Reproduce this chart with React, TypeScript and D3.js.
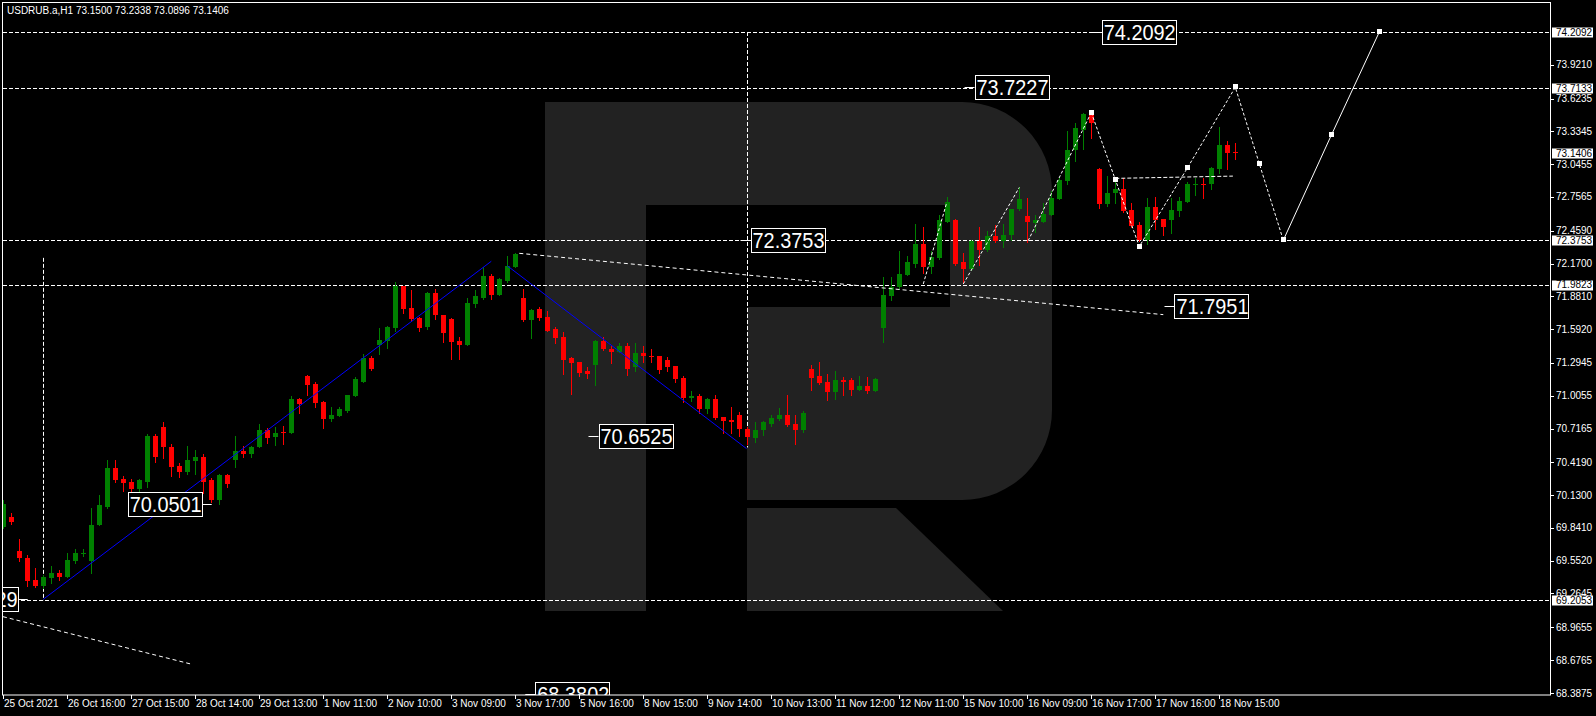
import React from "react";
import * as d3 from "d3";

// header
const symbolInfo = "USDRUB.a,H1  73.1500 73.2338 73.0896 73.1406";

// hourly bars (open / high / low / close)
const opens = [
  69.85, 69.94, 69.64, 69.58, 69.38, 69.33, 69.4, 69.44, 69.41, 69.55,
  69.61, 69.55, 69.87, 70.03, 70.37, 70.27, 70.25, 70.18, 70.25, 70.65,
  70.73, 70.55, 70.39, 70.33, 70.43, 70.47, 70.26, 70.09, 70.31, 70.44,
  70.52, 70.49, 70.55, 70.7, 70.64, 70.69, 70.68, 70.98, 71.18, 71.11,
  70.95, 70.8, 70.83, 70.87, 71.0, 71.13, 71.34, 71.45, 71.49, 71.6,
  71.97, 71.78, 71.69, 71.61, 71.91, 71.72, 71.68, 71.49, 71.45, 71.81,
  71.87, 72.06, 71.89, 72.02, 72.14, 71.87, 71.67, 71.77, 71.7, 71.59,
  71.52, 71.34, 71.3, 71.22, 71.28, 71.49, 71.42, 71.39, 71.44, 71.26,
  71.38, 71.36, 71.36, 71.32, 71.27, 71.16, 70.99, 71.0, 70.89, 70.98,
  70.82, 70.79, 70.84, 70.71, 70.63, 70.7, 70.76, 70.8, 70.84, 70.76,
  70.7, 71.24, 71.18, 71.13, 71.04, 71.14, 71.14, 71.06, 71.09, 71.05,
  71.6, 71.88, 71.96, 72.07, 72.17, 72.34, 72.14, 72.22, 72.54, 72.55,
  72.18, 72.12, 72.37, 72.29, 72.41, 72.37, 72.42, 72.65, 72.59, 72.53,
  72.54, 72.6, 72.74, 72.9, 73.17, 73.35, 73.48, 73.0, 72.69, 72.79,
  72.83, 72.64, 72.51, 72.38, 72.67, 72.56, 72.55, 72.63, 72.71, 72.86,
  72.87, 72.87, 73.0, 73.21, 73.15,
];
const highs = [
  70.09, 69.97, 69.74, 69.6, 69.49, 69.43, 69.51, 69.47, 69.62, 69.66,
  69.66, 70.02, 70.13, 70.44, 70.44, 70.3, 70.27, 70.27, 70.67, 70.67,
  70.77, 70.58, 70.41, 70.56, 70.53, 70.49, 70.28, 70.32, 70.32, 70.65,
  70.56, 70.56, 70.76, 70.72, 70.73, 70.74, 71.0, 70.99, 71.19, 71.13,
  70.96, 70.91, 70.91, 71.01, 71.17, 71.37, 71.36, 71.6, 71.62, 72.01,
  71.97, 71.94, 71.7, 71.92, 71.95, 71.72, 71.69, 71.52, 71.87, 71.94,
  72.14, 72.08, 72.04, 72.24, 72.26, 71.95, 71.77, 71.79, 71.75, 71.61,
  71.57, 71.35, 71.3, 71.26, 71.5, 71.52, 71.44, 71.47, 71.47, 71.47,
  71.44, 71.42, 71.36, 71.35, 71.27, 71.18, 71.05, 71.02, 70.99, 71.01,
  70.82, 70.91, 70.86, 70.73, 70.77, 70.78, 70.84, 70.9, 71.01, 70.84,
  70.87, 71.28, 71.3, 71.2, 71.22, 71.17, 71.16, 71.18, 71.17, 71.16,
  72.05, 72.05, 72.28, 72.24, 72.52, 72.49, 72.28, 72.6, 72.76, 72.56,
  72.26, 72.38, 72.49, 72.46, 72.51, 72.52, 72.65, 72.84, 72.75, 72.6,
  72.7, 72.81, 72.92, 73.34, 73.41, 73.5, 73.52, 73.01, 72.94, 72.92,
  72.92, 72.7, 72.54, 72.75, 72.76, 72.56, 72.75, 72.76, 72.89, 72.92,
  72.92, 73.02, 73.37, 73.25, 73.2338,
];
const lows = [
  69.84, 69.88, 69.55, 69.33, 69.32, 69.31, 69.36, 69.38, 69.41, 69.53,
  69.59, 69.44, 69.87, 70.02, 70.25, 70.17, 70.15, 70.17, 70.2, 70.42,
  70.46, 70.3, 70.29, 70.32, 70.32, 70.15, 70.07, 70.05, 70.2, 70.38,
  70.47, 70.47, 70.55, 70.59, 70.57, 70.58, 70.68, 70.85, 71.01, 70.91,
  70.72, 70.78, 70.83, 70.86, 71.0, 71.13, 71.23, 71.37, 71.43, 71.58,
  71.73, 71.66, 71.58, 71.59, 71.68, 71.48, 71.33, 71.33, 71.45, 71.79,
  71.86, 71.86, 71.89, 72.01, 72.14, 71.66, 71.51, 71.67, 71.58, 71.47,
  71.2, 71.02, 71.18, 71.16, 71.1, 71.41, 71.29, 71.39, 71.19, 71.22,
  71.3, 71.3, 71.21, 71.22, 71.13, 70.95, 70.96, 70.85, 70.85, 70.8,
  70.68, 70.68, 70.65, 70.58, 70.6, 70.66, 70.74, 70.79, 70.74, 70.58,
  70.69, 71.06, 71.11, 70.97, 70.98, 71.01, 71.01, 71.06, 71.03, 71.05,
  71.48, 71.85, 71.95, 72.07, 72.14, 72.09, 72.09, 72.21, 72.54, 72.16,
  72.0, 72.11, 72.16, 72.28, 72.36, 72.32, 72.38, 72.64, 72.36, 72.45,
  72.54, 72.6, 72.74, 72.87, 73.07, 73.18, 73.28, 72.66, 72.68, 72.7,
  72.62, 72.49, 72.37, 72.34, 72.47, 72.42, 72.44, 72.59, 72.71, 72.77,
  72.75, 72.83, 72.97, 73.0, 73.0896,
];
const closes = [
  70.05, 69.89, 69.58, 69.37, 69.33, 69.41, 69.44, 69.41, 69.56, 69.62,
  69.62, 69.87, 70.04, 70.37, 70.26, 70.24, 70.18, 70.26, 70.65, 70.47,
  70.55, 70.38, 70.33, 70.44, 70.47, 70.25, 70.09, 70.31, 70.23, 70.52,
  70.49, 70.55, 70.7, 70.63, 70.68, 70.68, 70.98, 70.93, 71.1, 70.94,
  70.8, 70.84, 70.89, 71.01, 71.15, 71.34, 71.24, 71.5, 71.61, 71.97,
  71.77, 71.68, 71.6, 71.91, 71.72, 71.56, 71.48, 71.45, 71.82, 71.88,
  72.06, 71.89, 72.03, 72.15, 72.25, 71.67, 71.76, 71.69, 71.58, 71.51,
  71.32, 71.29, 71.21, 71.2, 71.49, 71.42, 71.39, 71.44, 71.24, 71.38,
  71.36, 71.35, 71.23, 71.26, 71.15, 70.99, 71.0, 70.89, 70.98, 70.81,
  70.78, 70.77, 70.71, 70.64, 70.7, 70.77, 70.81, 70.84, 70.75, 70.7,
  70.85, 71.16, 71.12, 71.04, 71.14, 71.13, 71.06, 71.09, 71.05, 71.15,
  71.89, 71.96, 72.08, 72.18, 72.34, 72.14, 72.23, 72.55, 72.71, 72.17,
  72.12, 72.37, 72.29, 72.41, 72.37, 72.42, 72.65, 72.74, 72.54, 72.55,
  72.61, 72.75, 72.91, 73.17, 73.36, 73.49, 73.41, 72.69, 72.79, 72.83,
  72.63, 72.5, 72.38, 72.67, 72.55, 72.49, 72.64, 72.72, 72.87, 72.87,
  72.86, 73.01, 73.21, 73.14, 73.1406,
];

// time axis: one label every 8 bars
const timeLabels = [
  "25 Oct 2021", "26 Oct 16:00", "27 Oct 15:00", "28 Oct 14:00", "29 Oct 13:00",
  "1 Nov 11:00", "2 Nov 10:00", "3 Nov 09:00", "3 Nov 17:00", "5 Nov 16:00",
  "8 Nov 15:00", "9 Nov 14:00", "10 Nov 13:00", "11 Nov 12:00", "12 Nov 11:00",
  "15 Nov 10:00", "16 Nov 09:00", "16 Nov 17:00", "17 Nov 16:00", "18 Nov 15:00",
];
const labelStep = 8;

// price axis
const priceTicks = [
  73.921, 73.6235, 73.3345, 73.0455, 72.7565, 72.459, 72.17, 71.881, 71.592,
  71.2945, 71.0055, 70.7165, 70.419, 70.13, 69.841, 69.552, 69.2645, 68.9655,
  68.6765, 68.3875,
];
const markedPrices = [74.2092, 73.7133, 73.1406, 72.3753, 71.9823, 69.2053];
const levelPrices = [74.2092, 73.7133, 72.3753, 71.9823, 69.2053];

// drawn objects as [bar, price]
const blueLines = [
  [[5, 69.2129], [61, 72.19]],
  [[63, 72.15], [92.9, 70.54]],
];
const dottedTrends = [
  [[64.5, 72.26], [145, 71.72]],
  [[-0.05, 69.06], [23.6, 68.64]],
];
const waveLegs = [
  [[115, 71.99], [117.9, 72.7]],
  [[120, 71.99], [127, 72.84]],
  [[128.1, 72.37], [136, 73.5]],
];
const forecastDashed = [
  [136, 73.5], [139, 72.91], [142, 72.32], [148, 73.01], [154, 73.7227],
  [157, 73.05], [160, 72.3753],
];
const forecastSolid = [[160, 72.3753], [166, 73.3], [172, 74.2092]];
const flatLeg = [[139, 72.92], [153.7, 72.94]];
const vLines = [
  [5, 72.22, 69.2053],
  [93, 74.2092, 70.55],
];
const boxLabels = [
  { text: "74.2092", bar: 137.3, price: 74.2092, dash: "left" },
  { text: "73.7227", bar: 121.4, price: 73.7227, dash: "left" },
  { text: "72.3753", bar: 93.4, price: 72.3753, dash: "left" },
  { text: "71.7951", bar: 146.4, price: 71.7951, dash: "left" },
  { text: "70.6525", bar: 74.4, price: 70.6525, dash: "left" },
  { text: "70.0501", bar: 24.8, price: 70.0501, dash: "right" },
  { text: "69.2129", bar: 1.8, price: 69.2129, dash: "right" },
  { text: "68.3802", bar: 66.5, price: 68.3802, dash: "left" },
];

const W = 1596;
const H = 716;
const left = 3;
const top = 3;
const right = 1550;
const bottom = 695;
const axisFont = "Liberation Sans, Arial, sans-serif";

const App: React.FC = () => {
  const x = d3.scaleLinear().domain([0, 154]).range([3.3, 1235.3]);
  const y = d3.scaleLinear().domain([74.2092, 68.3875]).range([32, 693]);
  const line = d3
    .line<number[]>()
    .x((d) => x(d[0]))
    .y((d) => y(d[1]));

  const bars = d3.range(opens.length);

  return (
    <svg
      width={W}
      height={H}
      style={{ position: "absolute", left: 0, top: 0, background: "#000" }}
    >
      <defs>
        <clipPath id="plot">
          <rect x={2} y={top} width={right - 2} height={bottom - top} />
        </clipPath>
      </defs>
      <rect width={W} height={H} fill="#000" />

      <g clipPath="url(#plot)">
        {/* watermark */}
        <g fill="#222">
          <rect x={545} y={102} width={101} height={509} />
          <path d="M646,102 H962 A90,90 0 0 1 1052,192 V410 A90,90 0 0 1 962,500 H747 V307 H950 V205 H646 Z" />
          <path d="M747,508 H896 L1003,611 H747 Z" />
        </g>

        {/* horizontal levels */}
        {levelPrices.map((p) => (
          <line
            key={p}
            x1={left}
            x2={right}
            y1={Math.round(y(p)) + 0.5}
            y2={Math.round(y(p)) + 0.5}
            stroke="#fff"
            strokeDasharray="4,2"
          />
        ))}
        {vLines.map(([b, p1, p2]) => (
          <line
            key={b}
            x1={Math.round(x(b)) + 0.5}
            x2={Math.round(x(b)) + 0.5}
            y1={y(p1)}
            y2={y(p2)}
            stroke="#fff"
            strokeDasharray="4,2"
          />
        ))}

        {/* candles */}
        {bars.map((i) => {
          const cx = Math.round(x(i));
          const up = closes[i] >= opens[i];
          const col = up ? "#008000" : "#ff0000";
          const yo = Math.round(y(opens[i]));
          const yc = Math.round(y(closes[i]));
          const top0 = Math.min(yo, yc);
          const h = Math.max(1, Math.abs(yo - yc));
          return (
            <g key={i}>
              <line
                x1={cx + 0.5}
                x2={cx + 0.5}
                y1={Math.round(y(highs[i]))}
                y2={Math.round(y(lows[i])) + 1}
                stroke={col}
              />
              <rect x={cx - 2} y={top0} width={5} height={h} fill={col} />
            </g>
          );
        })}

        {/* drawn objects */}
        {blueLines.map((l, k) => (
          <path key={k} d={line(l)!} stroke="#0000ff" fill="none" />
        ))}
        {dottedTrends.map((l, k) => (
          <path
            key={k}
            d={line(l)!}
            stroke="#fff"
            fill="none"
            strokeDasharray="4,3"
          />
        ))}
        {waveLegs.map((l, k) => (
          <path
            key={k}
            d={line(l)!}
            stroke="#fff"
            fill="none"
            strokeDasharray="3,2"
          />
        ))}
        <path
          d={line(forecastDashed)!}
          stroke="#fff"
          fill="none"
          strokeDasharray="3,2"
        />
        <path d={line(flatLeg)!} stroke="#fff" fill="none" strokeDasharray="4,2" />
        <path d={line(forecastSolid)!} stroke="#fff" fill="none" />
        {[...forecastDashed, ...forecastSolid.slice(1)].map((d, k) => (
          <rect
            key={k}
            x={Math.round(x(d[0])) - 2}
            y={Math.round(y(d[1])) - 3}
            width={5}
            height={5}
            fill="#fff"
          />
        ))}

        {/* price labels */}
        {boxLabels.map((b) => {
          const bw = 74;
          const bx = b.dash === "left" ? x(b.bar) : x(b.bar) - bw;
          const by = y(b.price);
          const d0 = b.dash === "left" ? bx - 10 : bx + bw;
          return (
            <g key={b.text}>
              <line
                x1={d0}
                x2={d0 + 10}
                y1={Math.round(by) + 0.5}
                y2={Math.round(by) + 0.5}
                stroke="#fff"
              />
              <rect
                x={Math.round(bx) + 0.5}
                y={Math.round(by) - 11.5}
                width={bw}
                height={24}
                fill="#000"
                stroke="#fff"
              />
              <text
                x={bx + 2}
                y={by + 8}
                fill="#fff"
                fontFamily={axisFont}
                fontSize={22}
                textLength={bw - 2}
                lengthAdjust="spacingAndGlyphs"
              >
                {b.text}
              </text>
            </g>
          );
        })}
      </g>

      {/* frame */}
      <rect
        x={2.5}
        y={2.5}
        width={right - 2}
        height={bottom - 2.5}
        fill="none"
        stroke="#fff"
      />

      <text x={7} y={14} fill="#fff" fontFamily={axisFont} fontSize={10}>
        {symbolInfo}
      </text>

      {/* price axis */}
      {priceTicks.map((p) => (
        <g key={p}>
          <line
            x1={right}
            x2={right + 4}
            y1={Math.round(y(p)) + 0.5}
            y2={Math.round(y(p)) + 0.5}
            stroke="#fff"
          />
          <text
            x={1556}
            y={y(p) + 3.5}
            fill="#fff"
            fontFamily={axisFont}
            fontSize={10}
          >
            {p.toFixed(4)}
          </text>
        </g>
      ))}
      {markedPrices.map((p) => (
        <g key={p}>
          <rect x={1552} y={Math.round(y(p)) - 4.5} width={41} height={10} fill="#fff" />
          <text
            x={1556}
            y={y(p) + 3.5}
            fill="#000"
            fontFamily={axisFont}
            fontSize={10}
          >
            {p.toFixed(4)}
          </text>
        </g>
      ))}

      {/* time axis */}
      {timeLabels.map((t, k) => {
        const tx = Math.round(x(k * labelStep));
        return (
          <g key={t}>
            <line
              x1={tx + 0.5}
              x2={tx + 0.5}
              y1={bottom}
              y2={bottom + 4}
              stroke="#fff"
            />
            <text
              x={tx + 1}
              y={707}
              fill="#fff"
              fontFamily={axisFont}
              fontSize={10}
            >
              {t}
            </text>
          </g>
        );
      })}
    </svg>
  );
};

export default App;
